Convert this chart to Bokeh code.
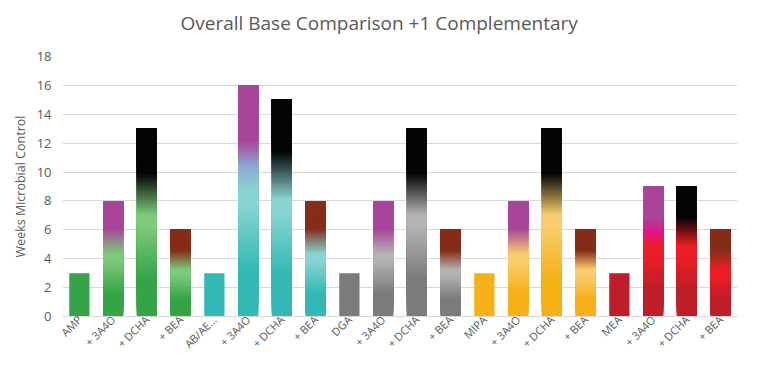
import numpy as np
from bokeh.plotting import figure
from bokeh.models import ColumnDataSource, FixedTicker, Range1d, Title
from bokeh.embed import file_html
from bokeh.resources import INLINE

# ---- data ----
labels = ["AMP", "+ 3A4O", "+ DCHA", "+ BEA",
          "AB/AE...", "+ 3A4O", "+ DCHA", "+ BEA",
          "DGA", "+ 3A4O", "+ DCHA", "+ BEA",
          "MIPA", "+ 3A4O", "+ DCHA", "+ BEA",
          "MEA", "+ 3A4O", "+ DCHA", "+ BEA"]
weeks = [3, 8, 13, 6, 3, 16, 15, 8, 3, 8, 13, 6, 3, 8, 13, 6, 3, 9, 9, 6]
base_group = [0, 0, 0, 0, 1, 1, 1, 1, 2, 2, 2, 2, 3, 3, 3, 3, 4, 4, 4, 4]
complement = [None, "3A4O", "DCHA", "BEA"] * 5
y_ticks = [0, 2, 4, 6, 8, 10, 12, 14, 16, 18]

# ---- styles ----
base_dark = ["#34a446", "#33b9b5", "#7b7b7b", "#f5b116", "#be1e2a"]
base_light = ["#7dca7b", "#88d4d2", "#b3b3b3", "#f9cd6e", "#ee1e26"]
comp_color = {"3A4O": "#a8449a", "DCHA": "#050505", "BEA": "#842d18"}
mid_color = {(1, "3A4O"): "#8ea8d8", (4, "3A4O"): "#e0148c"}


def hex2rgb(h):
    h = h.lstrip("#")
    return np.array([int(h[i:i + 2], 16) for i in (0, 2, 4)], dtype=float)


def rgb2hex(c):
    c = np.clip(np.round(c), 0, 255).astype(int)
    return "#%02x%02x%02x" % tuple(c)


def grad_color(stops, t):
    for (t0, c0), (t1, c1) in zip(stops[:-1], stops[1:]):
        if t0 <= t <= t1:
            f = 0 if t1 == t0 else (t - t0) / (t1 - t0)
            return rgb2hex(hex2rgb(c0) * (1 - f) + hex2rgb(c1) * f)
    return stops[-1][1]


xs = list(range(1, len(labels) + 1))
seg_x, seg_bottom, seg_top, seg_color = [], [], [], []
N = 90
for x, v, g, comp in zip(xs, weeks, base_group, complement):
    if comp is None:
        seg_x.append(x); seg_bottom.append(0); seg_top.append(v); seg_color.append(base_dark[g])
        continue
    cc = comp_color[comp]
    if (g, comp) in mid_color:
        stops = [(0.0, base_dark[g]), (0.2, base_dark[g]), (0.48, base_light[g]),
                 (0.54, base_light[g]), (0.65, mid_color[(g, comp)]), (0.76, cc), (1.0, cc)]
    else:
        stops = [(0.0, base_dark[g]), (0.2, base_dark[g]), (0.48, base_light[g]),
                 (0.54, base_light[g]), (0.76, cc), (1.0, cc)]
    for k in range(N):
        t = k / N
        seg_x.append(x)
        seg_bottom.append(v * t)
        seg_top.append(v)
        seg_color.append(grad_color(stops, t + 0.5 / N))

src = ColumnDataSource(dict(x=seg_x, bottom=seg_bottom, top=seg_top, color=seg_color))

p = figure(width=743, height=360, output_backend="svg", toolbar_location=None, title=None,
           x_range=Range1d(0.5, len(labels) + 0.5), y_range=Range1d(0, 18),
           min_border_left=62, min_border_right=6, min_border_top=56, min_border_bottom=44)
p.vbar(x="x", bottom="bottom", top="top", width=0.6, fill_color="color",
       line_color=None, source=src)

spacer = Title(text=" ", text_font_size="1px", standoff=18)
p.add_layout(spacer, "above")
main_title = Title(text="Overall Base Comparison +1 Complementary", align="left",
                   text_font="Open Sans", text_font_style="normal", text_font_size="19px",
                   text_color="#595959", standoff=0, offset=118)
p.add_layout(main_title, "above")

p.outline_line_color = None
p.background_fill_color = "white"

p.xgrid.grid_line_color = None
p.ygrid.grid_line_color = "#d9d9d9"
p.ygrid.grid_line_width = 1

p.yaxis.ticker = FixedTicker(ticks=y_ticks)
p.yaxis.axis_label = "Weeks Microbial Control"
p.yaxis.axis_label_text_font = "Open Sans"
p.yaxis.axis_label_text_font_style = "normal"
p.yaxis.axis_label_text_font_size = "12.5px"
p.yaxis.axis_label_text_color = "#595959"
p.yaxis.axis_line_color = None
p.yaxis.major_tick_line_color = None
p.yaxis.minor_tick_line_color = None
p.yaxis.major_label_text_font = "Open Sans"
p.yaxis.major_label_text_font_size = "13px"
p.yaxis.major_label_text_color = "#595959"

p.xaxis.ticker = FixedTicker(ticks=xs)
p.xaxis.major_label_overrides = {x: l for x, l in zip(xs, labels)}
p.xaxis.major_label_orientation = np.pi / 4
p.xaxis.major_label_standoff = 1
p.xaxis.axis_line_color = "#d9d9d9"
p.xaxis.major_tick_line_color = None
p.xaxis.minor_tick_line_color = None
p.xaxis.major_tick_out = 0
p.xaxis.major_label_text_font = "Open Sans"
p.xaxis.major_label_text_font_size = "11px"
p.xaxis.major_label_text_color = "#595959"

open("out.html", "w").write(file_html(p, INLINE))
